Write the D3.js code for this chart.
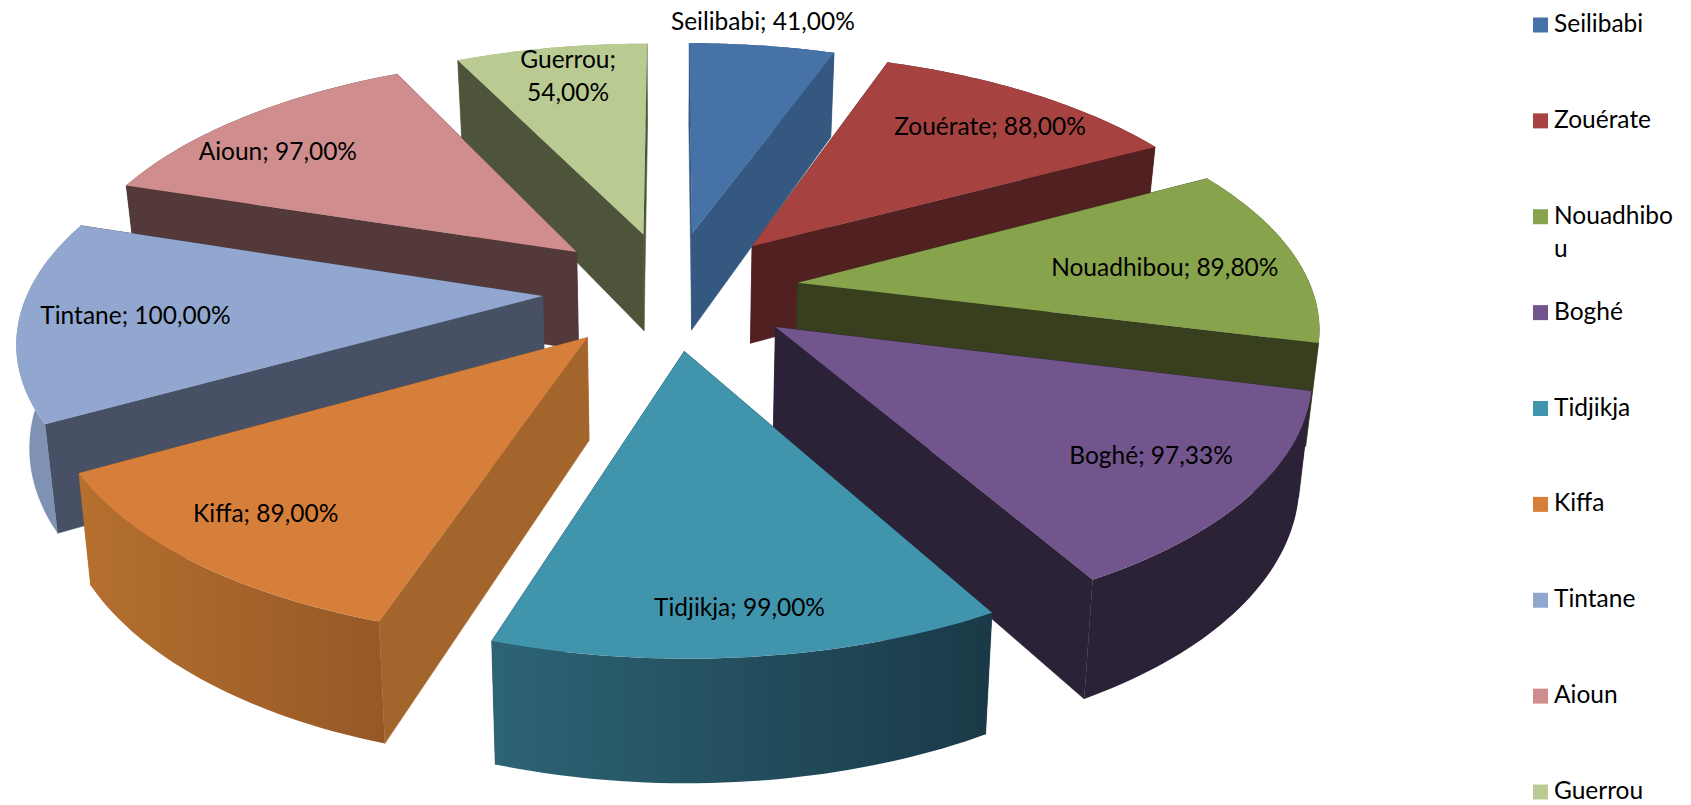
<!DOCTYPE html>
<html><head><meta charset="utf-8">
<script src="https://cdn.jsdelivr.net/npm/d3@7"></script>
<style>html,body{margin:0;padding:0;background:#fff}svg{display:block}text{font-family:Lato,"Open Sans",sans-serif;fill:#000}</style>
</head><body><svg id="c" width="1691" height="805"></svg>
<script>
const categories=["Seilibabi","Zouérate","Nouadhibou","Boghé","Tidjikja","Kiffa","Tintane","Aioun","Guerrou"];
const values=[41,88,89.8,97.33,99,89,100,97,54];
const valueLabels=["41,00%","88,00%","89,80%","97,33%","99,00%","89,00%","100,00%","97,00%","54,00%"];
const topColors=["#4672a8","#a64341","#87a34c","#71558c","#4095ad","#d67f3a","#92a7cf","#cf8e8d","#b9cb92"];
const wallColors=["#34587f","#502120","#373f1e","#2c2238","#1a3947","#a4652c","#475064","#533939","#4d543a"];
const sideLeft=["#34587f","#502120","#373f1e","#2c2238","#2d6475","#b5702f","#7f92b4","#533939","#a0b07e"];
const sideRight=["#34587f","#502120","#373f1e","#2c2238","#1a3947","#975826","#7f92b4","#533939","#a0b07e"];
const labelRadius=[1.15,.79,.73,.80,.86,.82,.78,.81,.83];
const labelShift=[-1,2,2,-1,0,1,0,-5,0.5];
const labelLines=[1,1,1,1,1,1,1,1,2];

const cx=671,cy=290,A=514,B=237,D=100,persp=.158,explode=.25,lean=.98;
const svg=d3.select("#c"),defs=svg.append("defs");
const proj=(x,y,z)=>{const w=1/(1+persp*y);const k=z?lean:1;
  return [cx+A*x*w*k,cy-B*y*w+(z?D*w:0)];};
const pie=d3.pie().sort(null).startAngle(0).endAngle(2*Math.PI)(values);
const line=d3.line().curve(d3.curveLinear);
const slices=pie.map((p,i)=>{
  const mid=(p.startAngle+p.endAngle)/2;
  const ox=explode*Math.sin(mid),oy=explode*Math.cos(mid);
  const thetas=d3.range(41).map(k=>p.startAngle+(p.endAngle-p.startAngle)*k/40);
  const pt=(r,t,z)=>proj(ox+r*Math.sin(t),oy+r*Math.cos(t),z);
  return {i,mid,oy,pt,thetas,start:p.startAngle,end:p.endAngle};
});
const order=slices.slice().sort((a,b)=>b.oy-a.oy);
order.forEach(s=>{
  const g=svg.append("g");
  const gid="side"+s.i;
  const lg=defs.append("linearGradient").attr("id",gid);
  lg.append("stop").attr("offset","0%").attr("stop-color",sideLeft[s.i]);
  lg.append("stop").attr("offset","100%").attr("stop-color",sideRight[s.i]);
  const apexT=s.pt(0,0,0),apexB=s.pt(0,0,1);
  const arcT=s.thetas.map(t=>s.pt(1,t,0)),arcB=s.thetas.map(t=>s.pt(1,t,1));
  const drawSide=()=>g.append("path").attr("d",line(arcT.concat(arcB.slice().reverse()))+"Z").attr("fill",`url(#${gid})`);
  const drawWalls=()=>[s.start,s.end].forEach(t=>{
    g.append("path").attr("d",line([apexT,s.pt(1,t,0),s.pt(1,t,1),apexB])+"Z")
     .attr("fill",wallColors[s.i]).attr("stroke",wallColors[s.i]).attr("stroke-width",.5);
  });
  if(s.oy>0){drawSide();drawWalls();} else {drawWalls();drawSide();}
  g.append("path").attr("d",line([apexT].concat(arcT))+"Z").attr("fill",topColors[s.i]);
});
const fs=24.5;
slices.forEach(s=>{
  const [x,y]=s.pt(labelRadius[s.i],s.mid+labelShift[s.i]*Math.PI/180,0);
  const t=svg.append("text").attr("x",x).attr("y",y).attr("text-anchor","middle").attr("font-size",fs);
  const txt=categories[s.i]+"; "+valueLabels[s.i];
  if(labelLines[s.i]===2){
    t.append("tspan").attr("x",x).attr("dy",-8).text(categories[s.i]+";");
    t.append("tspan").attr("x",x).attr("dy",33).text(valueLabels[s.i]);
  } else t.attr("dy","0.35em").text(txt);
});
const legendY=d3.scaleLinear().domain([0,8]).range([25,792]);
const legendWrap={2:["Nouadhibo","u"]};
categories.forEach((c,i)=>{
  const y=legendY(i);
  svg.append("rect").attr("x",1533).attr("y",y-7.5).attr("width",15).attr("height",15).attr("fill",topColors[i]);
  const lines=legendWrap[i]||[c];
  lines.forEach((l,k)=>svg.append("text").attr("x",1554).attr("y",y+7+k*33).attr("font-size",fs).text(l));
});
</script></body></html>
